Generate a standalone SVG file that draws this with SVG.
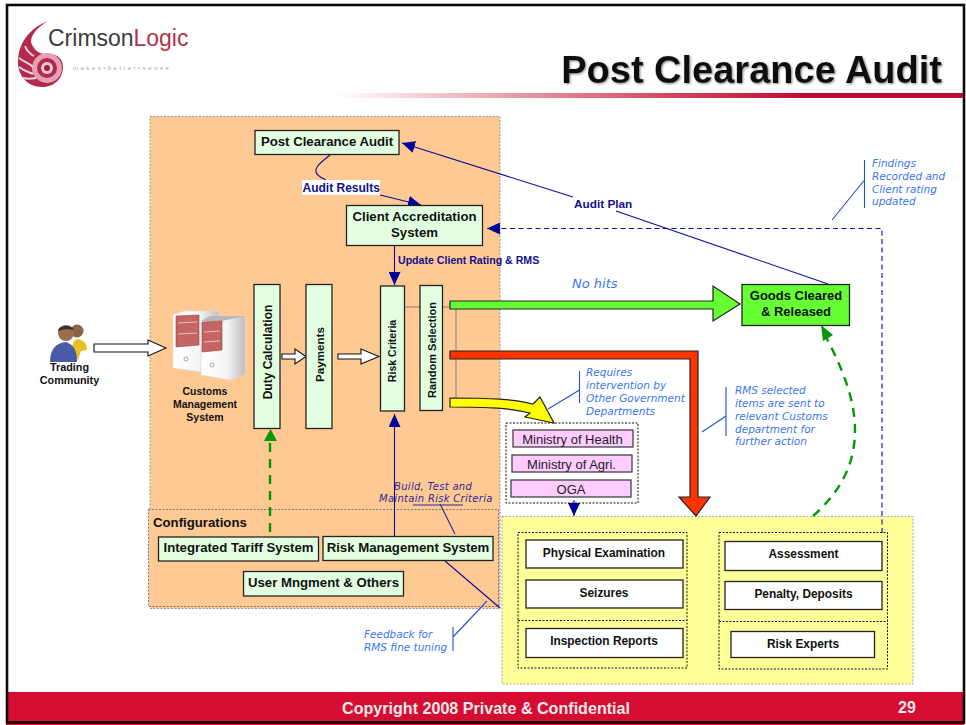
<svg xmlns="http://www.w3.org/2000/svg" width="966" height="725" viewBox="0 0 966 725">
<style>
text{font-family:"Liberation Sans",Arial,sans-serif}
.b{font-weight:700;fill:#111;text-anchor:middle}
.n{fill:#e2ffe0;stroke:#222;stroke-width:1.3}
.w{fill:#fff;stroke:#222;stroke-width:1.3}
.m{fill:#ffccff;stroke:#444;stroke-width:1.3}
.c{font-family:"DejaVu Sans",Verdana,sans-serif;font-style:italic;font-size:10.5px;fill:#3a76f0}
.k{font-weight:700;fill:#10108c}
.l{fill:none;stroke:#0b0ba0;stroke-width:1.1}
.cl{fill:none;stroke:#2050d8;stroke-width:1.1}
.g{fill:none;stroke:#009900;stroke-width:2.4;stroke-dasharray:9 7}
.ho{fill:#fff;stroke:#111;stroke-width:1.1}
.dg{fill:none;stroke:#111;stroke-width:1;stroke-dasharray:2 1.5}
.lb{font-size:13.2px}
.s{font-size:11.9px}
.mt{font-size:13px;fill:#222;text-anchor:middle}
.rp{fill:#c46464;stroke:#9c4040;stroke-width:.6}
.rl{fill:none;stroke:#eebbbb;stroke-width:1}
</style>
<defs>
<linearGradient id="rule" x1="0" x2="1" y1="0" y2="0"><stop offset="0" stop-color="#c8102e" stop-opacity="0"/><stop offset=".55" stop-color="#c8102e" stop-opacity=".8"/><stop offset=".75" stop-color="#c00c30"/><stop offset="1" stop-color="#c00c30"/></linearGradient>
<linearGradient id="srv" x1="0" x2="1" y1="0" y2="0"><stop offset="0" stop-color="#fff"/><stop offset=".6" stop-color="#f4f4f4"/><stop offset="1" stop-color="#bdbdbd"/></linearGradient>
<filter id="sh" x="-5%" y="-10%" width="110%" height="125%"><feDropShadow dx="1" dy="1" stdDeviation=".8" flood-color="#888"/></filter>
<marker id="ah" markerUnits="userSpaceOnUse" markerWidth="14" markerHeight="12" refX="13" refY="6" orient="auto"><path d="M0 0L13 6L0 12z" fill="#00009c"/></marker>
</defs>

<rect width="966" height="725" fill="#fff"/>
<g id="frame">
<rect x="6" y="692" width="958" height="33" fill="#d60d32"/>
<rect x="7" y="5" width="957" height="717.500" fill="none" stroke="#0a0a0a" stroke-width="2.600"/>
<rect x="335" y="93" width="628" height="5" fill="url(#rule)"/>
</g>

<g id="logo">
<path d="M48 21C30 28 19 42 18 60C17 76 28 87 42 87C56 87 63 77 63 67C63 58 55 53 47 54C38 55 33 48 31 42C31 34 38 27 48 21z" fill="#b22a4c"/>
<circle cx="47" cy="68" r="15" fill="#e9a0b2"/>
<circle cx="47" cy="68" r="10" fill="#b22a4c"/>
<circle cx="47" cy="68" r="6" fill="#f2c7d2"/>
<circle cx="47" cy="68" r="3" fill="#a01c40"/>
<path d="M19 58C24 62 29 63 33 67M19 67C24 71 29 72 33 74M23 78C27 79 31 79 36 78M25 46C27 51 30 54 34 56" fill="none" stroke="#f4d5dc" stroke-width="2"/>
<text x="48" y="46" font-size="23" fill="#3c3c40">Crimson</text>
<text x="133.500" y="46" font-size="23" fill="#b5324a">Logic</text>
<text x="73" y="69.500" font-size="6" letter-spacing="2.500" fill="#a8a8a8">makes•better•sense</text>
</g>

<text id="title" x="942" y="83" font-size="38" font-weight="700" text-anchor="end" fill="#111" filter="url(#sh)">Post Clearance Audit</text>

<g id="panels">
<rect x="150" y="116.500" width="350" height="492" fill="#ffc993" stroke="#999" stroke-width="1" stroke-dasharray="2 1.500"/>
<rect x="148.500" y="509.500" width="350" height="97" fill="#ffc993" stroke="#777" stroke-width="1" stroke-dasharray="2 1.500"/>
<rect x="502" y="516.500" width="411" height="167.500" fill="#ffff99" stroke="#aaa" stroke-width="1" stroke-dasharray="2 1.500"/>
</g>

<g id="connectors">
<path class="ho" d="M94 344H148V340L166 348L148 356V352H94z"/>
<path class="ho" d="M282 354H295V349L306 356.500L295 364V359H282z"/>
<path class="ho" d="M338 354H361V349L379 356.500L361 364V359H338z"/>
<path d="M404 307H450M456 309V398" fill="none" stroke="#808080" stroke-width="1"/>
<path d="M450 301H713V286L740 304L713 321V309H450z" fill="#66ff33" stroke="#222" stroke-width="1.200"/>
<path d="M450 351H698V497H710L696 516L679 497H690V359H450z" fill="#ff3300" stroke="#222" stroke-width="1.200"/>
<path d="M450 398C490 398 515 399 533 404L540 397L554 423L525 417L530 413C510 408 490 407 450 407z" fill="#ffff00" stroke="#222" stroke-width="1.200"/>
<path class="l" d="M828 284L616 211"/>
<path class="l" d="M573 197L402 143" marker-end="url(#ah)"/>
<path class="l" d="M330 155C320 163 315 167 316 172C317 176 322 178 326 180"/>
<path class="l" d="M380 195L421 205" marker-end="url(#ah)"/>
<path class="l" d="M394.500 245V285" marker-end="url(#ah)"/>
<path class="l" d="M394.500 536V414" marker-end="url(#ah)"/>
<path class="l" d="M574 500V516" marker-end="url(#ah)"/>
<path class="l" d="M882 533V228.500H487" stroke-dasharray="5 3.500" marker-end="url(#ah)"/>
<path class="l" d="M445 561L500 608"/>
<path class="g" d="M270 532V440"/>
<path d="M264 441L270.500 429L277 441z" fill="#009900"/>
<path class="g" d="M813 516C840 492 855 465 855 430C855 395 838 360 825 335"/>
<path d="M821 325L833 335L823 341z" fill="#009900"/>
<path class="cl" d="M864.500 160V208M864.500 180L832 220M579.500 371V403M579.500 390L548 409M726 387V436M726 416L702 432M453 627V651M453 637L487 601"/>
<path d="M413 505H463M440 504L455 534" fill="none" stroke="#2a2a9a" stroke-width="1.100"/>
</g>

<g id="connector-labels">
<rect x="302" y="180" width="78" height="15" fill="#fff"/>
<text class="k" x="302.500" y="192" font-size="12">Audit Results</text>
<text class="k" x="574" y="208" font-size="11.800">Audit Plan</text>
<text class="k" x="398" y="264" font-size="10.600">Update Client Rating &amp; RMS</text>
<text class="c" x="572" y="288" style="font-size:13px">No hits</text>
<text class="c" x="872" y="167">Findings</text>
<text class="c" x="872" y="180">Recorded and</text>
<text class="c" x="872" y="193">Client rating</text>
<text class="c" x="872" y="205">updated</text>
<text class="c" x="586" y="376">Requires</text>
<text class="c" x="586" y="389">intervention by</text>
<text class="c" x="586" y="402">Other Government</text>
<text class="c" x="586" y="415">Departments</text>
<text class="c" x="735" y="394">RMS selected</text>
<text class="c" x="735" y="407">items are sent to</text>
<text class="c" x="735" y="420">relevant Customs</text>
<text class="c" x="735" y="433">department for</text>
<text class="c" x="735" y="445">further action</text>
<text class="c" x="364" y="638">Feedback for</text>
<text class="c" x="364" y="651">RMS fine tuning</text>
<text class="c" x="394" y="489.500" style="fill:#2a2a9a;font-size:10px;letter-spacing:.3px">Build, Test and</text>
<text class="c" x="379" y="501.500" style="fill:#2a2a9a;font-size:10px;letter-spacing:.3px">Maintain Risk Criteria</text>
</g>

<g id="trading-community">
<circle cx="77" cy="331" r="6.500" fill="#8a6248"/>
<path d="M72 352C72 342 74 340 78 339C85 341 87 344 87 350L81 351L78 360z" fill="#e8c020"/>
<circle cx="66" cy="333" r="8" fill="#9a6c50"/>
<path d="M58 331C58 325 72 324 74 330L66 329z" fill="#3a3230"/>
<path d="M50 362C50 349 56 343 66 342C74 345 77 350 77 362z" fill="#4a5aa8"/>
<text class="b" font-size="10.800"><tspan x="69.500" y="371">Trading</tspan><tspan x="69.500" y="384">Community</tspan></text>
</g>

<g id="customs-management-system">
<path d="M173 315L184 311H219V316L201 321V372L173 368z" fill="url(#srv)" stroke="#ddd" stroke-width=".6"/>
<path d="M176 316L199 315V345L176 347z" class="rp"/>
<path class="rl" d="M178 323L197 322M178 334L197 333"/>
<path d="M201 321L210 316H245V375L230 380L201 375z" fill="url(#srv)" stroke="#ddd" stroke-width=".6"/>
<path d="M201 321L210 316H245L222 321z" fill="#b8b8b8"/>
<path d="M202 322L222 321V350L202 352z" class="rp"/>
<path class="rl" d="M204 332L220 331M204 342L220 341"/>
<circle cx="186" cy="359" r="2" fill="none" stroke="#aaa"/>
<circle cx="212" cy="365" r="2" fill="none" stroke="#aaa"/>
<text class="b" font-size="10.500"><tspan x="205" y="395">Customs</tspan><tspan x="205" y="408">Management</tspan><tspan x="205" y="421">System</tspan></text>
</g>

<g id="post-clearance-audit"><rect class="n" x="255" y="130.500" width="144" height="24"/><text class="b lb" x="327" y="146">Post Clearance Audit</text></g>
<g id="client-accreditation"><rect class="n" x="346.500" y="205.500" width="136" height="40"/><text class="b lb"><tspan x="414.500" y="221">Client Accreditation</tspan><tspan x="414.500" y="237">System</tspan></text></g>
<g id="duty-calculation"><rect class="n" x="254" y="284.500" width="26" height="144"/><text class="b" transform="translate(272 352) rotate(-90)" font-size="12">Duty Calculation</text></g>
<g id="payments"><rect class="n" x="306" y="284.500" width="26" height="144"/><text class="b" transform="translate(324 354.500) rotate(-90)" font-size="11.600">Payments</text></g>
<g id="risk-criteria"><rect class="n" x="380.500" y="286" width="24" height="125"/><text class="b" transform="translate(396 351) rotate(-90)" font-size="10.600">Risk Criteria</text></g>
<g id="random-selection"><rect class="n" x="420" y="285.500" width="22.500" height="125"/><text class="b" transform="translate(436 350) rotate(-90)" font-size="11">Random Selection</text></g>
<g id="goods-cleared"><rect x="742" y="284.500" width="107.500" height="41" fill="#66ff33" stroke="#222" stroke-width="1.300"/><text class="b" font-size="13"><tspan x="796" y="300">Goods Cleared</tspan><tspan x="796" y="316">&amp; Released</tspan></text></g>

<g id="ogas">
<rect class="dg" x="506" y="423" width="132" height="80"/>
<rect class="m" x="513" y="430" width="120" height="17"/><text class="mt" x="572.500" y="444">Ministry of Health</text>
<rect class="m" x="512" y="455" width="120" height="17"/><text class="mt" x="571.500" y="469">Ministry of Agri.</text>
<rect class="m" x="511" y="480" width="120" height="17"/><text class="mt" x="571" y="494">OGA</text>
</g>

<g id="configurations">
<text class="lb" x="153" y="527" font-weight="700" fill="#111">Configurations</text>
<rect class="n" x="158.500" y="537" width="160" height="24"/><text class="b lb" x="238.500" y="552">Integrated Tariff System</text>
<rect class="n" x="323" y="536.500" width="170" height="24"/><text class="b lb" x="408" y="552">Risk Management System</text>
<rect class="n" x="243.500" y="571.500" width="160" height="24.500"/><text class="b lb" x="323.500" y="587">User Mngment &amp; Others</text>
</g>

<g id="customs-left">
<path class="dg" d="M518 532.500H687V668H518zM518 620.500H687"/>
<rect class="w" x="526" y="540" width="157" height="28"/><text class="b s" x="604" y="557">Physical Examination</text>
<rect class="w" x="526" y="580" width="157" height="28"/><text class="b s" x="604" y="597">Seizures</text>
<rect class="w" x="526" y="628.500" width="157" height="29"/><text class="b s" x="604" y="645">Inspection Reports</text>
</g>
<g id="customs-right">
<path class="dg" d="M719 532.500H887.500V669H719zM719 621.500H887.500"/>
<rect class="w" x="725" y="541.500" width="157" height="29"/><text class="b s" x="803.500" y="558">Assessment</text>
<rect class="w" x="725" y="581.500" width="157" height="28"/><text class="b s" x="803.500" y="598">Penalty, Deposits</text>
<rect class="w" x="731" y="631.500" width="143.500" height="26"/><text class="b s" x="803" y="648">Risk Experts</text>
</g>

<g id="footer">
<text x="486" y="714" font-size="16.100" font-weight="700" text-anchor="middle" fill="#f4e8e8">Copyright 2008 Private &amp; Confidential</text>
<text x="907" y="713" font-size="16" font-weight="700" text-anchor="middle" fill="#f4e8e8">29</text>
</g>
</svg>
